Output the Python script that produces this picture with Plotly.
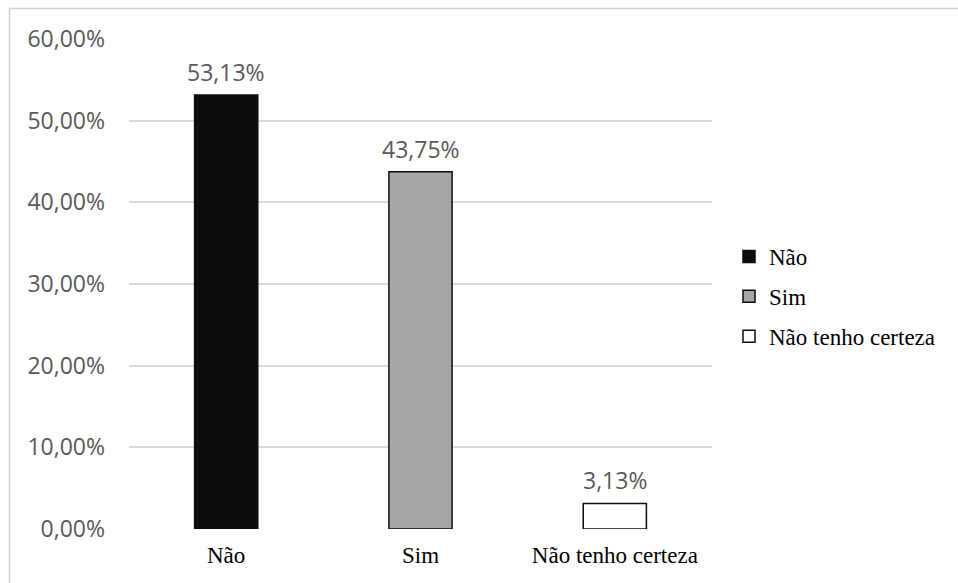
import plotly.graph_objects as go

categories = ["Não", "Sim", "Não tenho certeza"]
values = [53.13, 43.75, 3.13]
labels = ["53,13%", "43,75%", "3,13%"]
fills = ["#0d0d0d", "#a6a6a6", "#ffffff"]
tick_vals = [0, 10, 20, 30, 40, 50, 60]
tick_text = ["0,00%", "10,00%", "20,00%", "30,00%", "40,00%", "50,00%", "60,00%"]

SERIF = "Liberation Serif, Times New Roman, serif"
SANS = "Open Sans, Noto Sans, sans-serif"

fig = go.Figure()
for i, (c, v, f) in enumerate(zip(categories, values, fills)):
    fig.add_trace(go.Bar(
        x=[c], y=[v], name=c, marker=dict(color=f, line=dict(color="#0d0d0d", width=1.5)),
        width=0.325, legendgroup=str(i), hoverinfo="skip",
    ))

for c, v, t in zip(categories, values, labels):
    fig.add_annotation(x=c, y=v, text=t, showarrow=False, yanchor="bottom", yshift=5,
                       font=dict(family=SANS, size=23, color="#595959"))

L, R, T, B = 129, 712, 39, 529
W, H = 958, 583
pw, ph = R - L, B - T
def px(x):
    return (x - L) / pw
def py(y):
    return (B - y) / ph

fig.add_shape(type="line", xref="paper", yref="paper", x0=px(9), x1=px(958), y0=py(8.5), y1=py(8.5),
              line=dict(color="#d0d0d0", width=1.5))
fig.add_shape(type="line", xref="paper", yref="paper", x0=px(9.5), x1=px(9.5), y0=py(8), y1=py(583),
              line=dict(color="#d0d0d0", width=1.5))

fig.update_layout(
    width=W, height=H,
    margin=dict(l=L, r=W - R, t=T, b=H - B),
    paper_bgcolor="white", plot_bgcolor="white",
    barmode="overlay",
    showlegend=True,
    legend=dict(x=px(729), y=py(235), xanchor="left", yanchor="top",
                font=dict(family=SERIF, size=23, color="#000000"),
                tracegroupgap=7, itemwidth=30, traceorder="grouped"),
    xaxis=dict(showgrid=False, showline=False, ticks="", zeroline=False, ticklabelstandoff=10,
               tickfont=dict(family=SERIF, size=23, color="#000000")),
    yaxis=dict(range=[0, 60], tickvals=tick_vals, ticktext=tick_text,
               showgrid=True, gridcolor="#d9d9d9", gridwidth=1.5, zeroline=False,
               showline=False, ticks="", ticklabelstandoff=23,
               tickfont=dict(family=SANS, size=23, color="#595959")),
)

fig.write_html("out.html")
